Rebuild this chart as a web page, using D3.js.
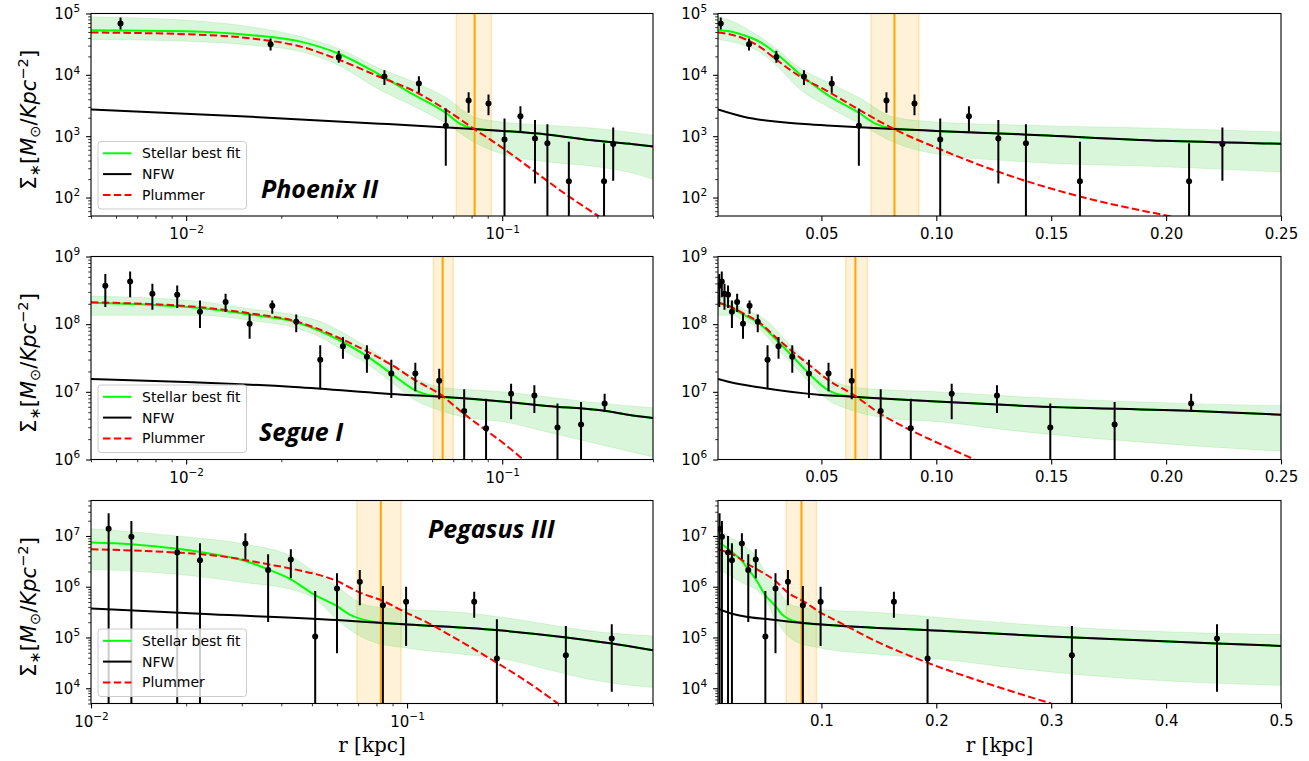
<!DOCTYPE html>
<html>
<head>
<meta charset="utf-8">
<script src="https://cdn.jsdelivr.net/npm/d3@7"></script>
<style>
  body { margin: 0; background: #fff; }
  svg { display: block; font-family: 'DejaVu Sans', sans-serif; }
  .tick text { font-family: 'DejaVu Sans', sans-serif; font-size: 15px; fill: #000; }
  .major line { stroke: #000; stroke-width: 1.1; }
  .minor line { stroke: #000; stroke-width: 0.8; }
  .title { font-family: 'Open Sans', sans-serif; font-weight: 700; font-style: italic; font-size: 25px; }
  .legend text { font-size: 14px; }
</style>
</head>
<body>
<svg id="fig" width="1309" height="761"></svg>
<script>
// ---- Phoenix II ----
const phxR = [0.0062, 0.0185, 0.0304, 0.0424, 0.0545, 0.0663, 0.0783, 0.0905, 0.1017, 0.1142, 0.127, 0.139, 0.1625, 0.210, 0.2245];
const phxSigma = [6.9e4, 3.16e4, 1.96e4, 9.4e3, 7.2e3, 1.48e3, 3.83e3, 3.42e3, 887, 2.12e3, 920, 764, 184, 184, 743];
const phxErrHi = [8.6e4, 3.9e4, 2.46e4, 1.19e4, 9.5e3, 2.84e3, 5.2e3, 4.8e3, 1.95e3, 3.09e3, 1.83e3, 1.57e3, 811, 764, 1.39e3];
const phxErrLo = [5.5e4, 2.5e4, 1.57e4, 6.8e3, 5.1e3, 330, 2.4e3, 2.2e3, 1, 1.18e3, 170, 1, 1, 1, 188];
const phxStellar = [[0.005, 5.35e4], [0.0099, 5.15e4], [0.0161, 4.44e4], [0.0232, 3.45e4], [0.0303, 2.23e4], [0.041, 1.0e4],
  [0.0523, 4.8e3], [0.0667, 2.35e3], [0.0735, 1.6e3], [0.081, 1.34e3], [0.1, 1.22e3], [0.138, 1.07e3], [0.199, 840], [0.26, 740], [0.3, 680]];
const phxNFW = [[0.005, 2.72e3], [0.0161, 2.07e3], [0.041, 1.6e3], [0.0523, 1.5e3], [0.081, 1.31e3], [0.1, 1.22e3],
  [0.138, 1.07e3], [0.199, 840], [0.26, 740], [0.3, 680]];
const phxPlummer = [[0.005, 4.9e4], [0.0099, 4.6e4], [0.0161, 3.92e4], [0.0232, 2.86e4], [0.0303, 1.78e4], [0.0405, 9.5e3],
  [0.0523, 5.5e3], [0.0667, 2.66e3], [0.081, 1.34e3], [0.1008, 632], [0.127, 263], [0.16, 110], [0.199, 52], [0.205, 47]];
const phxBandR = [0.005, 0.0099, 0.0161, 0.0232, 0.0303, 0.0405, 0.053, 0.0667, 0.081, 0.0984, 0.138, 0.199, 0.26, 0.3];
const phxBandHi = [8.8e4, 7.8e4, 6.05e4, 4.16e4, 2.69e4, 1.3e4, 7.5e3, 4.2e3, 2.07e3, 1.72e3, 1.51e3, 1.34e3, 1.14e3, 1.04e3];
const phxBandLo = [3.77e4, 3.54e4, 3.05e4, 2.37e4, 1.44e4, 5.9e3, 3.0e3, 1.6e3, 811, 525, 383, 318, 248, 198];
const phxRc = [0.0716, 0.0818, 0.0924];

// ---- Segue I ----
const segR = [0.00555, 0.00665, 0.00782, 0.00937, 0.01106, 0.01333, 0.01588, 0.01873, 0.0223, 0.02656, 0.03134,
  0.03732, 0.04458, 0.0531, 0.0632, 0.0758, 0.0889, 0.1067, 0.1264, 0.1496, 0.1776, 0.2109];
const segSigma = [3.69e8, 4.28e8, 2.81e8, 2.72e8, 1.53e8, 2.12e8, 1.01e8, 1.87e8, 1.09e8, 2.99e7, 4.7e7,
  3.31e7, 1.86e7, 1.86e7, 1.46e7, 5.2e6, 2.9e6, 9.4e6, 8.8e6, 2.96e6, 3.28e6, 6.7e6];
const segErrHi = [5.5e8, 6.0e8, 3.95e8, 3.73e8, 2.24e8, 2.81e8, 1.43e8, 2.24e8, 1.39e8, 4.86e7, 6.45e7,
  4.86e7, 2.99e7, 2.7e7, 2.2e7, 1.09e7, 7.9e6, 1.32e7, 1.25e7, 6.7e6, 7.1e6, 9.4e6];
const segErrLo = [1.79e8, 2.5e8, 1.63e8, 1.73e8, 8.75e7, 1.51e8, 6.1e7, 1.43e8, 7.6e7, 1.09e7, 3.09e7,
  1.92e7, 8.1e6, 1.02e7, 7.76e6, 1e5, 1e5, 3.93e6, 4.88e6, 1e5, 1e5, 5.05e6];
const segStellar = [[0.005, 2.07e8], [0.01106, 1.73e8], [0.01588, 1.39e8], [0.0223, 1.07e8], [0.03134, 5.45e7], [0.03732, 3.38e7],
  [0.04458, 1.86e7], [0.0531, 1.05e7], [0.0625, 8.5e6], [0.0758, 8.0e6], [0.1, 7.2e6], [0.1385, 6.2e6], [0.2128, 5.2e6], [0.25, 4.6e6], [0.3, 4.1e6]];
const segNFW = [[0.005, 1.55e7], [0.01, 1.4e7], [0.022, 1.18e7], [0.05, 9.0e6], [0.0625, 8.5e6], [0.1, 7.2e6],
  [0.1385, 6.2e6], [0.2128, 5.2e6], [0.25, 4.6e6], [0.3, 4.1e6]];
const segPlummer = [[0.005, 2.1e8], [0.01106, 1.78e8], [0.01588, 1.45e8], [0.0223, 1.1e8], [0.03134, 5.9e7], [0.03732, 3.96e7],
  [0.04458, 2.52e7], [0.0531, 1.48e7], [0.0632, 9.4e6], [0.0758, 4.7e6], [0.0889, 2.7e6], [0.1, 1.8e6], [0.118, 9.5e5]];
const segBandR = [0.005, 0.01106, 0.01588, 0.0223, 0.0265, 0.03134, 0.03732, 0.04458, 0.0531, 0.0632, 0.0751, 0.102, 0.1385, 0.1883, 0.3];
const segBandHi = [2.6e8, 2.17e8, 1.69e8, 1.35e8, 1.1e8, 7.5e7, 4.6e7, 2.6e7, 1.57e7, 1.18e7, 1.09e7, 9.95e6, 8.4e6, 7.1e6, 5.8e6];
const segBandLo = [1.35e8, 1.35e8, 1.14e8, 8.75e7, 6.45e7, 4.1e7, 2.6e7, 1.4e7, 7.5e6, 5.35e6, 4.26e6, 3.59e6, 2.56e6, 1.82e6, 1.09e6];
const segRc = [0.0606, 0.0648, 0.0700];

// ---- Pegasus III ----
const pegR = [0.01137, 0.01342, 0.01874, 0.02212, 0.03079, 0.03634, 0.04288, 0.05121, 0.06003, 0.07087, 0.08386, 0.0993,
  0.1631, 0.1924, 0.318, 0.4443];
const pegSigma = [1.39e7, 9.7e6, 4.7e6, 3.32e6, 7.07e6, 2.14e6, 3.42e6, 1.04e5, 9.18e5, 1.26e6, 4.3e5, 5.08e5,
  5.08e5, 3.84e4, 4.46e4, 9.5e4];
const pegErrHi = [2.79e7, 1.97e7, 1e7, 7.2e6, 1.13e7, 4.35e6, 5.46e6, 8.26e5, 1.84e6, 2.14e6, 1.03e6, 1e6,
  8e5, 2.28e5, 1.69e5, 1.82e5];
const pegErrLo = [1, 1, 1, 1, 3.47e6, 2.02e5, 1.47e6, 1, 4.89e4, 4.3e5, 1, 6.8e4, 2.46e5, 1, 1, 8.5e3];
const pegStellar = [[0.01, 7.4e6], [0.01342, 6.86e6], [0.01874, 5.6e6], [0.02212, 4.84e6], [0.03079, 3.22e6], [0.03634, 2.2e6],
  [0.04288, 1.4e6], [0.05121, 6.8e5], [0.0599, 4.18e5], [0.0656, 2.86e5], [0.07087, 2.35e5], [0.0765, 2.09e5], [0.0839, 1.93e5],
  [0.1, 1.8e5], [0.204, 1.35e5], [0.3, 1.05e5], [0.4388, 7.7e4], [0.6, 5.6e4]];
const pegNFW = [[0.01, 3.71e5], [0.0239, 2.87e5], [0.06, 2.21e5], [0.0839, 1.93e5], [0.1, 1.8e5], [0.204, 1.35e5],
  [0.3, 1.05e5], [0.4388, 7.7e4], [0.6, 5.6e4]];
const pegPlummer = [[0.01, 5.46e6], [0.01874, 4.7e6], [0.0254, 4.04e6], [0.03634, 2.77e6], [0.0441, 2.2e6], [0.0599, 1.3e6],
  [0.07087, 7.66e5], [0.08386, 5.25e5], [0.0993, 3.09e5], [0.1105, 2.28e5], [0.1502, 7.9e4], [0.1919, 3.2e4], [0.2377, 1.39e4], [0.3, 5e3]];
const pegBandR = [0.01, 0.01868, 0.03079, 0.04272, 0.05133, 0.0599, 0.07087, 0.0765, 0.0978, 0.1502, 0.204, 0.2771, 0.3764, 0.6];
const pegBandHi = [1.39e7, 1e7, 6.86e6, 4.04e6, 1.9e6, 1.03e6, 4.86e5, 4.18e5, 3.59e5, 3.09e5, 2.46e5, 1.82e5, 1.35e5, 1.07e5];
const pegBandLo = [2.2e6, 1.76e6, 1.2e6, 8.9e5, 5.65e5, 2.28e5, 1.07e5, 8.55e4, 6.3e4, 4.67e4, 3.72e4, 2.37e4, 1.5e4, 1.03e4];
const pegRc = [0.0694, 0.0826, 0.0957];

// axis settings
const logTicksX = [0.01, 0.1];
const linTicksTop = [0.05, 0.10, 0.15, 0.20, 0.25];
const linTicksBottom = [0.1, 0.2, 0.3, 0.4, 0.5];
const legendLabels = ['Stellar best fit', 'NFW', 'Plummer'];

const galaxies = [
  { name: 'Phoenix II', r: phxR, s: phxSigma, hi: phxErrHi, lo: phxErrLo, stellar: phxStellar, nfw: phxNFW, plummer: phxPlummer,
    bandR: phxBandR, bandHi: phxBandHi, bandLo: phxBandLo, rc: phxRc,
    yDomain: [50, 1e5], yTicks: [1e2, 1e3, 1e4, 1e5], logX: [0.005, 0.3], linX: [0.005, 0.25], linTicks: linTicksTop, linFmt: '.2f',
    titlePos: [170, 184.5] },
  { name: 'Segue I', r: segR, s: segSigma, hi: segErrHi, lo: segErrLo, stellar: segStellar, nfw: segNFW, plummer: segPlummer,
    bandR: segBandR, bandHi: segBandHi, bandLo: segBandLo, rc: segRc,
    yDomain: [1e6, 1e9], yTicks: [1e6, 1e7, 1e8, 1e9], logX: [0.005, 0.3], linX: [0.005, 0.25], linTicks: linTicksTop, linFmt: '.2f',
    titlePos: [168, 184.5] },
  { name: 'Pegasus III', r: pegR, s: pegSigma, hi: pegErrHi, lo: pegErrLo, stellar: pegStellar, nfw: pegNFW, plummer: pegPlummer,
    bandR: pegBandR, bandHi: pegBandHi, bandLo: pegBandLo, rc: pegRc,
    yDomain: [5e3, 5e7], yTicks: [1e4, 1e5, 1e6, 1e7], logX: [0.01, 0.6], linX: [0.01, 0.5], linTicks: linTicksBottom, linFmt: '.1f',
    titlePos: [337, 37.5] }
];

const svg = d3.select('#fig');
const defs = svg.append('defs');

const COLS = [{ x0: 91, x1: 653 }, { x0: 718, x1: 1281 }];
const ROWS = [{ y0: 13.5, y1: 216 }, { y0: 256.5, y1: 459.5 }, { y0: 500.5, y1: 703.5 }];

const GREEN = '#00ff00', RED = '#ff0000', ORANGE = '#ffa500', BAND = '#32cd32';
const DASH = '7.5,3.3';

// minor ticks at 2..9 x 10^n inside the domain
function minorTicks(domain) {
  const out = [];
  const lo = Math.floor(Math.log10(domain[0])), hi = Math.ceil(Math.log10(domain[1]));
  for (let e = lo; e < hi; e++) {
    for (let k = 2; k <= 9; k++) {
      const v = k * Math.pow(10, e);
      if (v >= domain[0] * 0.999 && v <= domain[1] * 1.001) out.push(v);
    }
  }
  return out;
}

// 10^n labels with a superscript exponent
function supLabels(axisG) {
  axisG.selectAll('.tick text').each(function (d) {
    const e = Math.round(Math.log10(d));
    const t = d3.select(this).text(null);
    t.append('tspan').text('10');
    t.append('tspan').attr('font-size', '10.5px').attr('dy', '-0.62em').text(e < 0 ? '\u2212' + (-e) : String(e));
  });
}

function drawPanel(p, row, col) {
  const { x0, x1 } = COLS[col];
  const { y0, y1 } = ROWS[row];
  const w = x1 - x0, h = y1 - y0;
  const logX = col === 0;

  const x = logX
    ? d3.scaleLog().domain(p.logX).range([0, w])
    : d3.scaleLinear().domain(p.linX).range([0, w]);
  const y = d3.scaleLog().domain(p.yDomain).range([h, 0]);

  const id = `clip-${row}-${col}`;
  defs.append('clipPath').attr('id', id).append('rect').attr('width', w).attr('height', h);

  const g = svg.append('g').attr('transform', `translate(${x0},${y0})`);
  const plot = g.append('g').attr('clip-path', `url(#${id})`);

  // half-light radius span
  plot.append('rect')
    .attr('x', x(p.rc[0])).attr('y', 0)
    .attr('width', x(p.rc[2]) - x(p.rc[0])).attr('height', h)
    .attr('fill', ORANGE).attr('fill-opacity', 0.15);
  [p.rc[0], p.rc[2]].forEach(v => {
    plot.append('line')
      .attr('x1', x(v)).attr('x2', x(v)).attr('y1', 0).attr('y2', h)
      .attr('stroke', ORANGE).attr('stroke-opacity', 0.25).attr('stroke-width', 1.5);
  });

  // stellar fit uncertainty band
  const bandData = p.bandR.map((r, i) => [r, p.bandLo[i], p.bandHi[i]]);
  const area = d3.area()
    .x(d => x(d[0])).y0(d => y(d[1])).y1(d => y(d[2]))
    .curve(d3.curveMonotoneX);
  plot.append('path').datum(bandData)
    .attr('d', area)
    .attr('fill', BAND).attr('fill-opacity', 0.18)
    .attr('stroke', BAND).attr('stroke-opacity', 0.15).attr('stroke-width', 1);

  plot.append('line')
    .attr('x1', x(p.rc[1])).attr('x2', x(p.rc[1])).attr('y1', 0).attr('y2', h)
    .attr('stroke', ORANGE).attr('stroke-width', 2);

  const line = d3.line().x(d => x(d[0])).y(d => y(d[1])).curve(d3.curveMonotoneX);
  plot.append('path').datum(p.stellar).attr('d', line)
    .attr('fill', 'none').attr('stroke', GREEN).attr('stroke-width', 2);
  plot.append('path').datum(p.nfw).attr('d', line)
    .attr('fill', 'none').attr('stroke', '#000').attr('stroke-width', 2);
  plot.append('path').datum(p.plummer).attr('d', line)
    .attr('fill', 'none').attr('stroke', RED).attr('stroke-width', 2).attr('stroke-dasharray', DASH);

  // data with error bars
  const pts = p.r.map((r, i) => ({ r: r, s: p.s[i], lo: p.lo[i], hi: p.hi[i] }));
  plot.selectAll('.err').data(pts).join('line')
    .attr('class', 'err')
    .attr('x1', d => x(d.r)).attr('x2', d => x(d.r))
    .attr('y1', d => Math.min(y(d.lo), h + 20)).attr('y2', d => y(d.hi))
    .attr('stroke', '#000').attr('stroke-width', 2);
  plot.selectAll('.pt').data(pts).join('circle')
    .attr('class', 'pt')
    .attr('cx', d => x(d.r)).attr('cy', d => y(d.s))
    .attr('r', 3).attr('fill', '#000');

  // frame
  g.append('rect').attr('width', w).attr('height', h)
    .attr('fill', 'none').attr('stroke', '#000').attr('stroke-width', 1.1);

  // x axis
  if (logX) {
    g.append('g').attr('class', 'minor').attr('transform', `translate(0,${h})`)
      .call(d3.axisBottom(x).tickValues(minorTicks(p.logX)).tickSize(2.8).tickFormat(''))
      .call(a => a.select('.domain').remove());
    const maj = g.append('g').attr('class', 'major').attr('transform', `translate(0,${h})`)
      .call(d3.axisBottom(x).tickValues(logTicksX).tickSize(4.9).tickPadding(7.5).tickFormat(d => d))
      .call(a => a.select('.domain').remove());
    supLabels(maj);
  } else {
    g.append('g').attr('class', 'major').attr('transform', `translate(0,${h})`)
      .call(d3.axisBottom(x).tickValues(p.linTicks).tickSize(4.9).tickPadding(7).tickFormat(d3.format(p.linFmt)))
      .call(a => a.select('.domain').remove());
  }

  // y axis
  g.append('g').attr('class', 'minor')
    .call(d3.axisLeft(y).tickValues(minorTicks(p.yDomain)).tickSize(2.8).tickFormat(''))
    .call(a => a.select('.domain').remove());
  const yMaj = g.append('g').attr('class', 'major')
    .call(d3.axisLeft(y).tickValues(p.yTicks).tickSize(4.9).tickPadding(6).tickFormat(d => d))
    .call(a => a.select('.domain').remove());
  supLabels(yMaj);

  if (logX) {
    // legend
    const lg = g.append('g').attr('class', 'legend').attr('transform', `translate(7,${h - 7 - 67.5})`);
    lg.append('rect').attr('width', 148.5).attr('height', 67.5).attr('rx', 3)
      .attr('fill', '#fff').attr('fill-opacity', 0.8).attr('stroke', '#cccccc');
    const styles = [{ c: GREEN, dash: null }, { c: '#000', dash: null }, { c: RED, dash: DASH }];
    legendLabels.forEach((lab, i) => {
      const yy = 11.8 + i * 20.8;
      lg.append('line').attr('x1', 5).attr('x2', 33.5).attr('y1', yy).attr('y2', yy)
        .attr('stroke', styles[i].c).attr('stroke-width', 2).attr('stroke-dasharray', styles[i].dash);
      lg.append('text').attr('x', 44).attr('y', yy).attr('dy', '0.35em').text(lab);
    });

    g.append('text').attr('class', 'title')
      .attr('x', p.titlePos[0]).attr('y', p.titlePos[1])
      .text(p.name);
  }
}

galaxies.forEach((p, row) => {
  drawPanel(p, row, 0);
  drawPanel(p, row, 1);
});

// y axis labels
ROWS.forEach(rw => {
  const cy = (rw.y0 + rw.y1) / 2 + 5;
  const t = svg.append('text')
    .attr('transform', `translate(36,${cy}) rotate(-90)`)
    .attr('text-anchor', 'middle')
    .attr('font-family', 'DejaVu Sans')
    .attr('font-size', 21);
  t.append('tspan').text('\u03A3');
  t.append('tspan').attr('font-size', 14.7).attr('dy', 4).text('\u2217');
  t.append('tspan').attr('dy', -4).text('[');
  t.append('tspan').attr('font-style', 'italic').text('M');
  t.append('tspan').attr('font-size', 14.7).attr('dy', 4).text('\u2299');
  t.append('tspan').attr('dy', -4).text('/');
  t.append('tspan').attr('font-style', 'italic').text('Kpc');
  t.append('tspan').attr('font-size', 14.7).attr('dy', -8).text('\u22122');
  t.append('tspan').attr('dy', 8).text(']');
});

// x axis labels
COLS.forEach(c => {
  svg.append('text')
    .attr('x', (c.x0 + c.x1) / 2).attr('y', 751.5)
    .attr('text-anchor', 'middle')
    .attr('font-family', 'DejaVu Serif')
    .attr('font-size', 20)
    .text('r [kpc]');
});
</script>
</body>
</html>
